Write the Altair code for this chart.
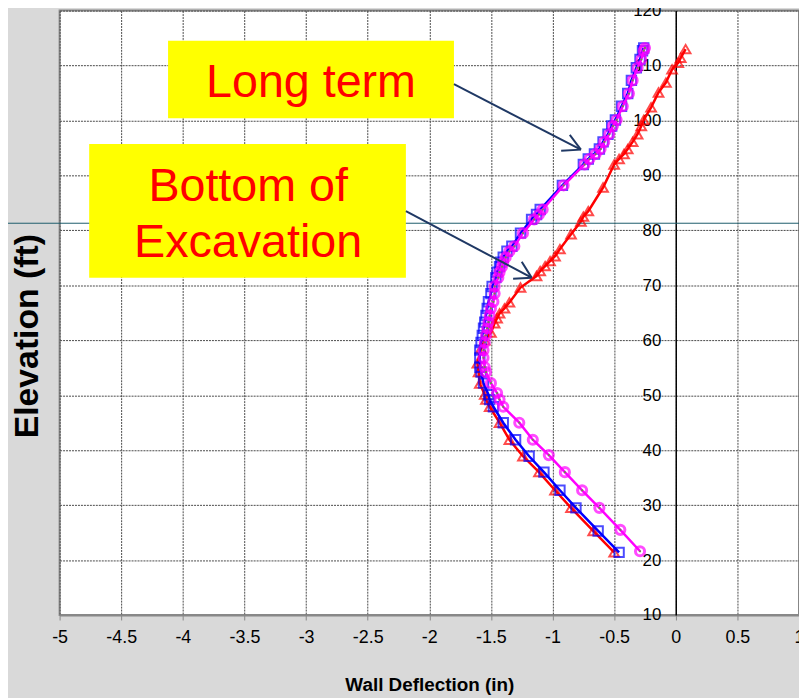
import altair as alt
import pandas as pd

# ---------------- data ----------------
mag_x = [-0.29, -0.45, -0.62, -0.76, -0.90, -1.03, -1.16, -1.27, -1.40, -1.43, -1.45, -1.50,
         -1.54, -1.55, -1.56, -1.56, -1.55, -1.54, -1.53, -1.52, -1.51, -1.50, -1.48, -1.47,
         -1.47, -1.44, -1.43, -1.41, -1.40, -1.38, -1.35, -1.31, -1.24, -1.15, -1.11, -1.08,
         -0.91, -0.74, -0.70, -0.65, -0.61, -0.58, -0.54, -0.51, -0.48, -0.43, -0.38, -0.35,
         -0.31, -0.28, -0.26, -0.25]
mag_y = [21.6, 25.5, 29.5, 32.7, 36.0, 39.1, 41.9, 45.0, 47.9, 49.2, 50.4, 52.2,
         54.2, 55.1, 56.8, 58.2, 59.6, 60.9, 62.2, 63.3, 64.5, 65.8, 67.0, 68.5,
         69.8, 71.4, 72.4, 73.4, 74.2, 75.1, 76.2, 77.1, 79.5, 82.0, 82.9, 83.8,
         88.2, 92.0, 93.0, 93.9, 94.8, 96.1, 97.5, 99.0, 100.1, 102.6, 104.9, 107.3,
         109.6, 111.1, 112.7, 113.2]

blue_x = [-0.46, -0.63, -0.81, -0.94, -1.07, -1.19, -1.30, -1.40, -1.48, -1.51, -1.52, -1.56,
          -1.58, -1.59, -1.59, -1.59, -1.58, -1.57, -1.56, -1.55, -1.54, -1.53, -1.52, -1.50,
          -1.49, -1.46, -1.45, -1.43, -1.42, -1.40, -1.37, -1.33, -1.26, -1.17, -1.13, -1.10,
          -0.92, -0.75, -0.71, -0.66, -0.62, -0.59, -0.55, -0.52, -0.49, -0.44, -0.39, -0.36,
          -0.32, -0.29, -0.27, -0.26]
blue_y = [21.4, 25.3, 29.5, 32.7, 36.0, 38.9, 41.9, 45.0, 47.9, 49.2, 50.1, 52.2,
          54.2, 55.1, 56.8, 58.2, 59.6, 60.9, 62.2, 63.3, 64.5, 65.8, 67.0, 68.5,
          69.8, 71.4, 72.4, 73.4, 74.2, 75.1, 76.2, 77.1, 79.5, 82.0, 82.9, 83.8,
          88.2, 92.0, 93.0, 93.9, 94.8, 96.1, 97.5, 99.0, 100.1, 102.6, 104.9, 107.3,
          109.6, 111.1, 112.7, 113.2]

red_x = [-0.50, -0.67, -0.85, -0.98, -1.11, -1.24, -1.35, -1.43, -1.51, -1.54, -1.55, -1.59,
         -1.60, -1.61, -1.58, -1.55, -1.50, -1.47, -1.45, -1.43, -1.39, -1.35, -1.26,
         -1.13, -1.10, -1.06, -1.02, -0.98, -0.94, -0.85, -0.77, -0.75, -0.71, -0.59,
         -0.50, -0.46, -0.42, -0.39, -0.35, -0.31, -0.28, -0.26, -0.20, -0.14, -0.08,
         -0.03, 0.02, 0.04, 0.08]
red_y = [21.4, 25.3, 29.5, 32.7, 36.0, 38.9, 41.9, 45.0, 47.9, 49.2, 50.1, 52.1,
         54.2, 55.8, 58.5, 60.0, 61.4, 63.1, 64.0, 64.9, 65.8, 66.9, 69.6,
         71.7, 72.6, 73.5, 74.4, 75.3, 76.6, 79.3, 81.6, 82.5, 83.5, 87.8,
         92.0, 93.0, 93.9, 94.8, 96.1, 97.5, 99.0, 100.1, 102.4, 105.1, 106.9,
         109.3, 110.5, 111.4, 113.0]

x_ticks = [-5, -4.5, -4, -3.5, -3, -2.5, -2, -1.5, -1, -0.5, 0, 0.5, 1]
y_ticks = [10, 20, 30, 40, 50, 60, 70, 80, 90, 100, 110, 120]

# annotation boxes (data coords)
box_x1 = [-4.12, -4.76]
box_x2 = [-1.80, -2.19]
box_y1 = [100.4, 71.4]
box_y2 = [114.5, 95.7]
label_text = ["Long term", "Bottom of", "Excavation"]
label_x = [-2.96, -3.47, -3.47]
label_y = [104.2, 85.3, 75.2]

# arrows (shaft + two wings each)
arr_x1 = [-1.80, -0.77, -0.77, -2.19, -1.17, -1.17]
arr_y1 = [106.6, 94.7, 94.7, 83.5, 71.4, 71.4]
arr_x2 = [-0.77, -0.86, -0.93, -1.17, -1.25, -1.32]
arr_y2 = [94.7, 97.4, 94.5, 71.4, 74.3, 71.2]

hline_y = [81.3]

# ---------------- chart ----------------
W, H = 745, 609
FONT = "Liberation Sans"

xs = alt.Scale(domain=[-5, 1], nice=False, zero=False)
ys = alt.Scale(domain=[10, 120], nice=False, zero=False)

x_axis = alt.Axis(values=x_ticks, labelExpr="toString(datum.value)", grid=True,
                  gridColor="#4a4a4a", gridDash=[2, 1], gridWidth=1,
                  domainColor="#888888", domainWidth=2, tickColor="#888888", tickSize=5,
                  labelFont=FONT, labelFontSize=18, labelColor="black", labelPadding=9,
                  labelFlush=False, title="Wall Deflection (in)", titleFont=FONT,
                  titleFontSize=19, titleFontWeight="bold", titleColor="black",
                  titlePadding=29)
y_axis = alt.Axis(values=y_ticks, labelExpr="toString(datum.value)", grid=True,
                  gridColor="#4a4a4a", gridDash=[2, 1], gridWidth=1,
                  domainColor="black", domainWidth=1.5, ticks=False, offset=-620.8,
                  labelFont=FONT, labelFontSize=17, labelColor="black", labelPadding=15,
                  labelFlush=False, title="")


def X(field):
    return alt.X(field, scale=xs, axis=x_axis)


def Y(field):
    return alt.Y(field, scale=ys, axis=y_axis)


def series_df(xv, yv):
    return pd.DataFrame({"x": xv, "y": yv, "i": list(range(len(xv)))})


def enc():
    return dict(x=X("x:Q"), y=Y("y:Q"), order="i:Q")


red_df = series_df(red_x, red_y)
blue_df = series_df(blue_x, blue_y)
mag_df = series_df(mag_x, mag_y)

red_line = alt.Chart(red_df).mark_line(color="#ff0000", strokeWidth=2.5).encode(**enc())
red_pts = alt.Chart(red_df).mark_point(shape="triangle-up", filled=False, color="#ff0000",
                                       size=95, strokeWidth=2).encode(**enc())
blue_line = alt.Chart(blue_df).mark_line(color="#0000ff", strokeWidth=2.5).encode(**enc())
blue_pts = alt.Chart(blue_df).mark_point(shape="square", filled=False, color="#0000ff",
                                         size=90, strokeWidth=2).encode(**enc())
mag_line = alt.Chart(mag_df).mark_line(color="#ff00ff", strokeWidth=2.5).encode(**enc())
mag_pts = alt.Chart(mag_df).mark_point(shape="circle", filled=False, color="#ff00ff",
                                       size=85, strokeWidth=3).encode(**enc())
mag_dots = alt.Chart(mag_df).mark_point(shape="circle", filled=True, color="#6b8e4e",
                                        size=5, opacity=1).encode(**enc())

hline = alt.Chart(pd.DataFrame({"y": hline_y})).mark_rule(
    color="#1d5d6b", strokeWidth=1, clip=False).encode(
    y=Y("y:Q"), x=alt.value(-60), x2=alt.value(W + 20))

box_df = pd.DataFrame({"x": box_x1, "x2": box_x2, "y": box_y1, "y2": box_y2})
boxes = alt.Chart(box_df).mark_rect(color="#ffff00").encode(
    x=X("x:Q"), x2="x2:Q", y=Y("y:Q"), y2="y2:Q")

lab_df = pd.DataFrame({"t": label_text, "x": label_x, "y": label_y})
labels = alt.Chart(lab_df).mark_text(font=FONT, fontSize=47, color="#ff0000",
                                     align="center", baseline="alphabetic").encode(
    x=X("x:Q"), y=Y("y:Q"), text="t:N")

arr_df = pd.DataFrame({"x": arr_x1, "y": arr_y1, "x2": arr_x2, "y2": arr_y2})
arrows = alt.Chart(arr_df).mark_rule(color="#1f3864", strokeWidth=2).encode(
    x=X("x:Q"), x2="x2:Q", y=Y("y:Q"), y2="y2:Q")

ytitle = alt.Chart(pd.DataFrame({"t": ["Elevation (ft)"]})).mark_text(
    font=FONT, fontSize=34, fontWeight="bold", color="black", angle=270,
    align="center", baseline="middle").encode(
    x=alt.value(-32), y=alt.value(328), text="t:N")

chart = alt.layer(
    red_line, hline, red_pts, blue_line, blue_pts, mag_line, mag_pts, mag_dots,
    boxes, labels, arrows, ytitle
).properties(
    width=W, height=H,
    autosize=alt.AutoSizeParams(type="none"),
    padding={"left": 52, "top": 0, "right": 0, "bottom": 82},
    background="#d9d9d9",
).configure_view(
    fill="white", stroke="#888888", strokeWidth=2
)

chart.save("out.html", embed_options={"renderer": "svg", "actions": False})
